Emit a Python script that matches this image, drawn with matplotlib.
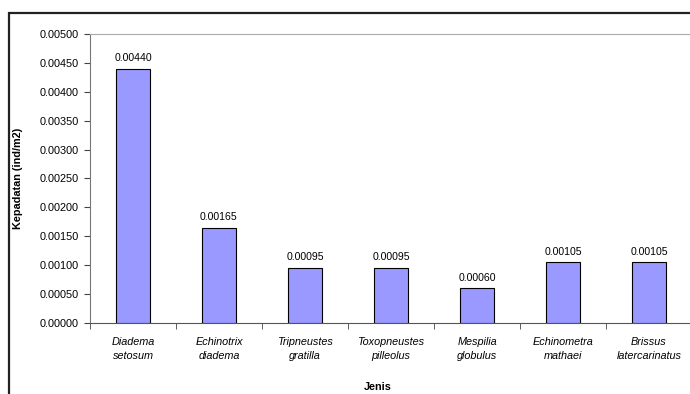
import matplotlib.pyplot as plt
import numpy as np
from matplotlib.patches import Rectangle

plt.rcParams['font.family'] = ['Liberation Sans', 'DejaVu Sans']

species = ["Diadema\nsetosum", "Echinotrix\ndiadema", "Tripneustes\ngratilla",
           "Toxopneustes\npilleolus", "Mespilia\nglobulus", "Echinometra\nmathaei",
           "Brissus\nlatercarinatus"]
density = [0.00440, 0.00165, 0.00095, 0.00095, 0.00060, 0.00105, 0.00105]
yticks = np.arange(0, 0.00501, 0.0005)

fig = plt.figure(figsize=(6.9, 3.94), dpi=100)
# outer chart frame (cropped at right and bottom)
fig.patches.append(Rectangle((9 / 690, -0.05), 1.1, (394 - 13) / 394 + 0.05,
                             transform=fig.transFigure, fill=False,
                             edgecolor='#222222', linewidth=1.6))

ax = fig.add_axes([90 / 690, (394 - 323) / 394, 602 / 690, (323 - 34) / 394])
x = np.arange(len(species))
ax.bar(x, density, width=0.4, color='#9999FF', edgecolor='black', linewidth=0.8, zorder=3)
for xi, v in zip(x, density):
    ax.text(xi, v + 0.0001, f"{v:.5f}", ha='center', va='bottom', fontsize=7.6)

ax.set_xlim(-0.5, len(species) - 0.5)
ax.set_ylim(0, 0.005)
ax.set_yticks(yticks)
ax.set_yticklabels([f"{t:.5f}" for t in yticks], fontsize=7.8)
ax.set_xticks(x)
ax.set_xticklabels(species, fontsize=7.8, style='italic', linespacing=1.55)
ax.tick_params(axis='x', which='major', length=0, pad=10)
ax.set_xticks(np.arange(-0.5, len(species), 1), minor=True)
ax.tick_params(axis='x', which='minor', length=4, direction='out', color='#444444')
ax.tick_params(axis='y', length=4, direction='out', color='#444444', pad=4)

ax.spines['top'].set_color('#aaaaaa')
ax.spines['right'].set_visible(False)
ax.spines['left'].set_color('#777777')
ax.spines['bottom'].set_color('#555555')

ax.set_ylabel("Kepadatan (ind/m2)", fontsize=7.8, fontweight='bold')
ax.yaxis.set_label_coords(-(90 - 23) / 602, 0.5)
ax.set_xlabel("Jenis", fontsize=7.8, fontweight='bold')
ax.xaxis.set_label_coords((378 - 90) / 602, -(382 - 323) / (323 - 34))

fig.savefig("out.png", dpi=100)
